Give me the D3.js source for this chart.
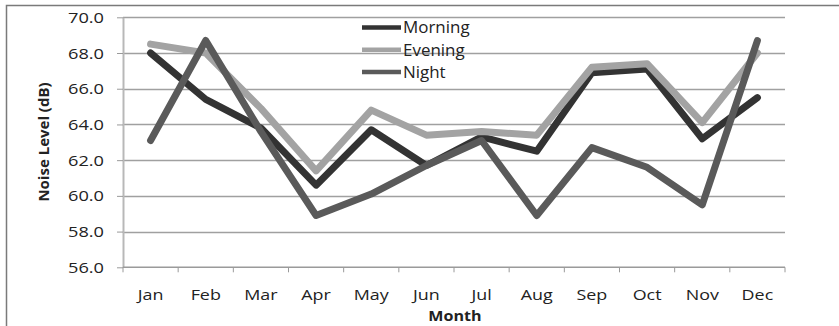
<!DOCTYPE html>
<html>
<head>
<meta charset="utf-8">
<script src="https://cdn.jsdelivr.net/npm/d3@7"></script>
<style>
  body { margin: 0; background: #fff; }
  text { font-family: "Open Sans", sans-serif; fill: #222; }
</style>
</head>
<body>
<div id="chart"></div>
<script>
const months = ["Jan", "Feb", "Mar", "Apr", "May", "Jun", "Jul", "Aug", "Sep", "Oct", "Nov", "Dec"]
const morning = [68.0, 65.4, 63.8, 60.6, 63.7, 61.7, 63.3, 62.5, 66.9, 67.1, 63.2, 65.5]
const evening = [68.5, 68.0, 64.9, 61.4, 64.8, 63.4, 63.6, 63.4, 67.2, 67.4, 64.1, 68.0]
const night = [63.1, 68.7, 63.6, 58.9, 60.1, 61.7, 63.1, 58.9, 62.7, 61.6, 59.5, 68.7]
const yTicks = [56, 58, 60, 62, 64, 66, 68, 70]
const seriesNames = ["Morning", "Evening", "Night"]

const width = 839, height = 326
const plot = {left: 123, right: 785, top: 17.3, bottom: 267.3}
const colors = ["#333333", "#a3a3a3", "#5a5a5a"]

const svg = d3.select("#chart").append("svg")
    .attr("width", width)
    .attr("height", height)

// outer frame, cut off at right/bottom like the picture
svg.append("rect")
    .attr("x", 6.5).attr("y", 5.5)
    .attr("width", 860).attr("height", 340)
    .attr("fill", "none")
    .attr("stroke", "#7a7a7a")
    .attr("stroke-width", 1.5)

const x = d3.scaleBand()
    .domain(months)
    .range([plot.left, plot.right])

const y = d3.scaleLinear()
    .domain([56, 70])
    .range([plot.bottom, plot.top])

// gridlines
svg.append("g")
    .selectAll("line")
    .data(yTicks.slice(1))
    .enter().append("line")
    .attr("x1", plot.left).attr("x2", plot.right)
    .attr("y1", d => Math.round(y(d)) + 0.5)
    .attr("y2", d => Math.round(y(d)) + 0.5)
    .attr("stroke", "#a0a0a0")
    .attr("stroke-width", 1.3)

// y axis
const yAxis = svg.append("g")
    .attr("transform", `translate(${plot.left},0)`)
    .call(d3.axisLeft(y).tickValues(yTicks).tickFormat(d3.format(".1f")).tickSize(6).tickSizeOuter(0))
yAxis.select(".domain").attr("stroke", "#b8b8b8").attr("stroke-width", 2)
yAxis.selectAll(".tick line").attr("stroke", "#9a9a9a")
yAxis.selectAll(".tick text")
    .attr("x", null)
    .attr("dy", "0.36em")
    .attr("transform", "translate(-19,0) scale(1.3,1)")
    .style("font-size", "14px")
    .style("font-family", "'Open Sans', sans-serif")
    .attr("fill", "#222")

// x axis with ticks on category boundaries
const xg = svg.append("g")
xg.append("line")
    .attr("x1", plot.left).attr("x2", plot.right)
    .attr("y1", plot.bottom).attr("y2", plot.bottom)
    .attr("stroke", "#9a9a9a").attr("stroke-width", 1.5)
xg.selectAll("line.tk")
    .data(months.map(m => x(m)).concat([x(months[months.length - 1]) + x.bandwidth()]))
    .enter().append("line")
    .attr("class", "tk")
    .attr("x1", d => d).attr("x2", d => d)
    .attr("y1", plot.bottom).attr("y2", plot.bottom + 5)
    .attr("stroke", "#9a9a9a")
xg.selectAll("text")
    .data(months)
    .enter().append("text")
    .attr("transform", d => `translate(${x(d) + x.bandwidth() / 2},299.5) scale(1.28,1)`)
    .attr("text-anchor", "middle")
    .style("font-size", "14px")
    .text(d => d)

// axis titles
svg.append("text")
    .attr("transform", "translate(455,321) scale(1.15,1)")
    .attr("text-anchor", "middle")
    .style("font-size", "14px")
    .style("font-weight", "bold")
    .text("Month")

svg.append("text")
    .attr("transform", "translate(49,142) rotate(-90)")
    .attr("text-anchor", "middle")
    .style("font-size", "15px")
    .style("font-weight", "bold")
    .text("Noise Level (dB)")

// lines
const line = d3.line()
    .x((d, i) => x(months[i]) + x.bandwidth() / 2)
    .y(d => y(d))

const series = [morning, evening, night]
svg.append("g")
    .selectAll("path")
    .data(series)
    .enter().append("path")
    .attr("d", d => line(d))
    .attr("fill", "none")
    .attr("stroke", (d, i) => colors[i])
    .attr("stroke-width", 7)
    .attr("stroke-linejoin", "round")
    .attr("stroke-linecap", "round")

// legend
const legend = svg.selectAll("g.legend")
    .data(seriesNames)
    .enter().append("g")
    .attr("class", "legend")
    .attr("transform", (d, i) => `translate(362,${27.5 + i * 22.3})`)

legend.append("line")
    .attr("x1", 0).attr("x2", 39)
    .attr("stroke", (d, i) => colors[i])
    .attr("stroke-width", 4.5)

legend.append("text")
    .attr("transform", "translate(41,5.8) scale(1.06,1)")
    .style("font-size", "16px")
    .text(d => d)
</script>
</body>
</html>
